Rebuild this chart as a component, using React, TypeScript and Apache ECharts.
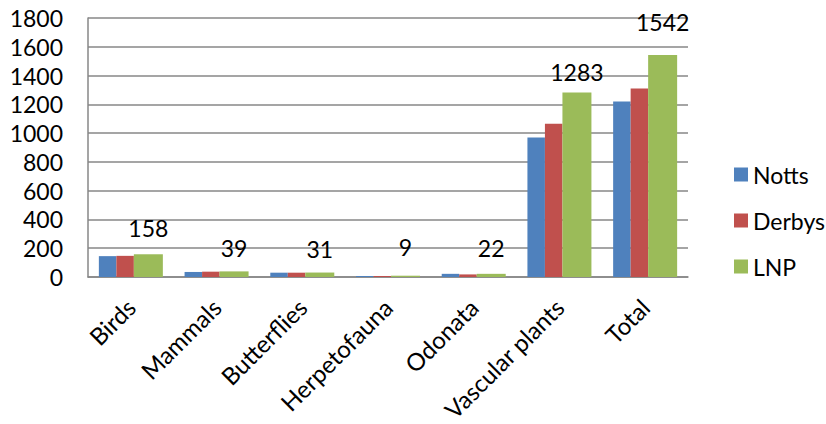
import React, { useEffect, useRef } from "react";
import * as echarts from "echarts";

const categories = [
  "Birds",
  "Mammals",
  "Butterflies",
  "Herpetofauna",
  "Odonata",
  "Vascular plants",
  "Total",
];
const notts = [145, 35, 30, 7, 22, 970, 1220];
const derbys = [147, 37, 30, 7, 18, 1065, 1310];
const lnp = [158, 39, 31, 9, 22, 1283, 1542];
const yTicks = { min: 0, max: 1800, interval: 200 };

const FONT = "Lato, 'Open Sans', sans-serif";

export default function App() {
  const ref = useRef<HTMLDivElement>(null);

  useEffect(() => {
    if (!ref.current) return;
    const chart = echarts.init(ref.current, undefined, { renderer: "svg" });
    // label lift above each LNP bar
    const lift = [15, 12, 12, 17, 14, 9, 22];
    chart.setOption({
      animation: false,
      textStyle: { fontFamily: FONT },
      grid: {
        left: 88,
        right: 138,
        top: 18,
        bottom: 147,
        outerBoundsMode: "none",
      },
      legend: {
        orient: "vertical",
        left: 729,
        top: 158,
        itemWidth: 14,
        itemHeight: 14,
        itemGap: 23,
        itemTextGap: 8,
        icon: "rect",
        textStyle: { fontSize: 23, color: "#000", fontFamily: FONT },
        data: ["Notts", "Derbys", "LNP"],
      },
      xAxis: {
        type: "category",
        data: categories,
        axisLine: { lineStyle: { color: "#878787", width: 1.5 } },
        axisTick: { show: false },
        axisLabel: {
          rotate: 45,
          interval: 0,
          margin: 26,
          fontSize: 24,
          color: "#000",
          fontFamily: FONT,
        },
      },
      yAxis: {
        type: "value",
        min: yTicks.min,
        max: yTicks.max,
        interval: yTicks.interval,
        axisLine: { show: true, lineStyle: { color: "#878787", width: 1.5 } },
        axisTick: { show: false },
        splitLine: { lineStyle: { color: "#878787", width: 1.5 } },
        axisLabel: {
          fontSize: 23,
          color: "#000",
          margin: 25,
          fontFamily: FONT,
          formatter: (v: number) => String(v),
        },
      },
      series: [
        {
          name: "Notts",
          type: "bar",
          data: notts,
          barWidth: 17.5,
          barGap: "0%",
          itemStyle: { color: "#4F81BD" },
        },
        {
          name: "Derbys",
          type: "bar",
          data: derbys,
          barWidth: 17.5,
          barGap: "0%",
          itemStyle: { color: "#C0504D" },
        },
        {
          name: "LNP",
          type: "bar",
          data: lnp.map((v, i) => ({
            value: v,
            label: { distance: lift[i] },
          })),
          barWidth: 29,
          barGap: "0%",
          itemStyle: { color: "#9BBB59" },
          label: {
            show: true,
            position: "top",
            fontSize: 23,
            color: "#000",
            fontFamily: FONT,
          },
        },
      ],
    });
    return () => chart.dispose();
  }, []);

  return (
    <div
      ref={ref}
      style={{ position: "fixed", left: 0, top: 0, width: 826, height: 424, background: "#fff" }}
    />
  );
}
